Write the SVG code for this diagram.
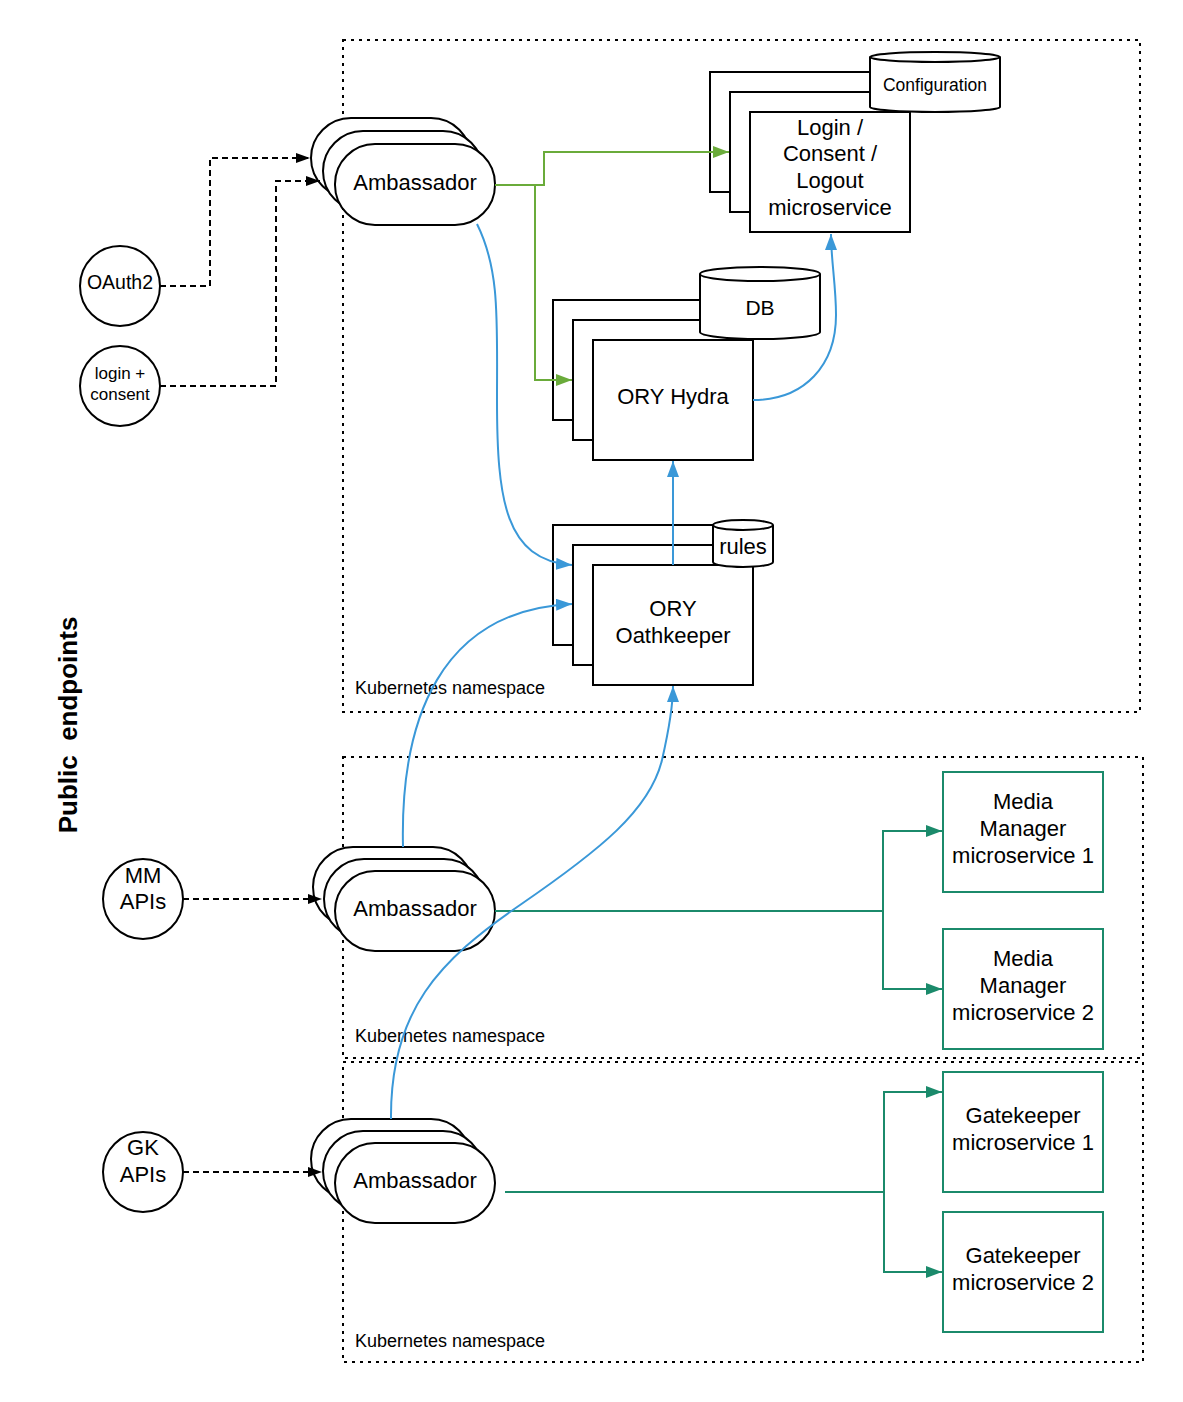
<svg xmlns="http://www.w3.org/2000/svg" width="1183" height="1402" viewBox="0 0 1183 1402">
<defs>
<style>
text{font-family:"Liberation Sans",Arial,sans-serif;fill:#000;text-anchor:middle}
.t{font-size:22px}
.s{font-size:18px}
.k{font-size:18px;text-anchor:start}
.ns{fill:none;stroke:#000;stroke-width:2;stroke-dasharray:3 5}
.n{fill:#fff;stroke:#000;stroke-width:2}
.g{fill:#fff;stroke:#1b8a6b;stroke-width:2}
.dash{fill:none;stroke:#000;stroke-width:2;stroke-dasharray:6 4}
.grn{fill:none;stroke:#6aab3a;stroke-width:2}
.teal{fill:none;stroke:#1b8a6b;stroke-width:2}
.blue{fill:none;stroke:#3a98d8;stroke-width:2}
</style>
<marker id="ak" markerWidth="14" markerHeight="10" refX="14" refY="5" orient="auto" markerUnits="userSpaceOnUse"><path d="M0,0 L14,5 L0,10 Z" fill="#000"/></marker>
<marker id="ag" markerWidth="16" markerHeight="12" refX="16" refY="6" orient="auto" markerUnits="userSpaceOnUse"><path d="M0,0 L16,6 L0,12 Z" fill="#6aab3a"/></marker>
<marker id="at" markerWidth="16" markerHeight="12" refX="16" refY="6" orient="auto" markerUnits="userSpaceOnUse"><path d="M0,0 L16,6 L0,12 Z" fill="#1b8a6b"/></marker>
<marker id="ab" markerWidth="16" markerHeight="12" refX="16" refY="6" orient="auto" markerUnits="userSpaceOnUse"><path d="M0,0 L16,6 L0,12 Z" fill="#3a98d8"/></marker>
</defs>
<rect width="1183" height="1402" fill="#fff"/>

<g id="namespaces">
<rect class="ns" x="343" y="40" width="797" height="672"/>
<rect class="ns" x="343" y="757" width="800" height="301"/>
<rect class="ns" x="343" y="1062" width="800" height="300"/>
<text class="k" x="355" y="694">Kubernetes namespace</text>
<text class="k" x="355" y="1042">Kubernetes namespace</text>
<text class="k" x="355" y="1347">Kubernetes namespace</text>
</g>

<text id="public-endpoints" transform="translate(77,725) rotate(-90)" style="font-size:26px;font-weight:bold;white-space:pre" xml:space="preserve">Public  endpoints</text>

<g id="oauth2">
<circle class="n" cx="120" cy="286" r="40"/>
<text x="120" y="289" style="font-size:19.5px">OAuth2</text>
</g>
<g id="login-consent">
<circle class="n" cx="120" cy="386" r="40"/>
<text x="120" y="379" style="font-size:17px">login +</text>
<text x="120" y="400" style="font-size:17px">consent</text>
</g>
<g id="mm-apis">
<circle class="n" cx="143" cy="899" r="40"/>
<text class="t" x="143" y="883">MM</text>
<text class="t" x="143" y="909">APIs</text>
</g>
<g id="gk-apis">
<circle class="n" cx="143" cy="1172" r="40"/>
<text class="t" x="143" y="1155">GK</text>
<text class="t" x="143" y="1182">APIs</text>
</g>

<g id="ambassador-top">
<rect class="n" x="311" y="118" width="160" height="80" rx="40"/>
<rect class="n" x="323" y="131" width="160" height="80" rx="40"/>
<rect class="n" x="335" y="144" width="160" height="81" rx="40"/>
<text class="t" x="415" y="190">Ambassador</text>
</g>
<g id="ambassador-mm">
<rect class="n" x="313" y="847" width="160" height="80" rx="40"/>
<rect class="n" x="324" y="859" width="160" height="80" rx="40"/>
<rect class="n" x="335" y="871" width="160" height="80" rx="40"/>
<text class="t" x="415" y="916">Ambassador</text>
</g>
<g id="ambassador-gk">
<rect class="n" x="311" y="1119" width="160" height="80" rx="40"/>
<rect class="n" x="323" y="1131" width="160" height="80" rx="40"/>
<rect class="n" x="335" y="1143" width="160" height="80" rx="40"/>
<text class="t" x="415" y="1188">Ambassador</text>
</g>

<g id="login-consent-logout">
<rect class="n" x="710" y="72" width="160" height="120"/>
<rect class="n" x="730" y="92" width="160" height="120"/>
<rect class="n" x="750" y="112" width="160" height="120"/>
<text class="t" x="830" y="135">Login /</text>
<text class="t" x="830" y="161">Consent /</text>
<text class="t" x="830" y="188">Logout</text>
<text class="t" x="830" y="215">microservice</text>
</g>
<g id="configuration">
<path class="n" d="M870,57 A65,5 0 0 1 1000,57 V107 A65,5 0 0 1 870,107 Z"/>
<path d="M870,57 A65,5 0 0 0 1000,57" fill="none" stroke="#000" stroke-width="2"/>
<text class="s" x="935" y="91" style="font-size:17.5px">Configuration</text>
</g>

<g id="ory-hydra">
<rect class="n" x="553" y="300" width="160" height="120"/>
<rect class="n" x="573" y="320" width="160" height="120"/>
<rect class="n" x="593" y="340" width="160" height="120"/>
<text class="t" x="673" y="404">ORY Hydra</text>
</g>
<g id="db">
<path class="n" d="M700,274 A60,7 0 0 1 820,274 V332 A60,7 0 0 1 700,332 Z"/>
<path d="M700,274 A60,7 0 0 0 820,274" fill="none" stroke="#000" stroke-width="2"/>
<text class="t" x="760" y="315" style="font-size:21px">DB</text>
</g>

<g id="ory-oathkeeper">
<rect class="n" x="553" y="525" width="160" height="120"/>
<rect class="n" x="573" y="545" width="160" height="120"/>
<rect class="n" x="593" y="565" width="160" height="120"/>
<text class="t" x="673" y="616">ORY</text>
<text class="t" x="673" y="643">Oathkeeper</text>
</g>
<g id="rules">
<path class="n" d="M713,525 A30,5 0 0 1 773,525 V562 A30,5 0 0 1 713,562 Z"/>
<path d="M713,525 A30,5 0 0 0 773,525" fill="none" stroke="#000" stroke-width="2"/>
<text class="t" x="743" y="554">rules</text>
</g>

<g id="mm-service-1">
<rect class="g" x="943" y="772" width="160" height="120"/>
<text class="t" x="1023" y="809">Media</text>
<text class="t" x="1023" y="836">Manager</text>
<text class="t" x="1023" y="863">microservice 1</text>
</g>
<g id="mm-service-2">
<rect class="g" x="943" y="929" width="160" height="120"/>
<text class="t" x="1023" y="966">Media</text>
<text class="t" x="1023" y="993">Manager</text>
<text class="t" x="1023" y="1020">microservice 2</text>
</g>
<g id="gk-service-1">
<rect class="g" x="943" y="1072" width="160" height="120"/>
<text class="t" x="1023" y="1123">Gatekeeper</text>
<text class="t" x="1023" y="1150">microservice 1</text>
</g>
<g id="gk-service-2">
<rect class="g" x="943" y="1212" width="160" height="120"/>
<text class="t" x="1023" y="1263">Gatekeeper</text>
<text class="t" x="1023" y="1290">microservice 2</text>
</g>

<g id="connectors">
<path class="dash" d="M160,286 H210 V158 H310" marker-end="url(#ak)"/>
<path class="dash" d="M160,386 H276 V181 H320" marker-end="url(#ak)"/>
<path class="dash" d="M183,899 H322" marker-end="url(#ak)"/>
<path class="dash" d="M183,1172 H322" marker-end="url(#ak)"/>
<path class="grn" d="M495,185 H544 V152 H729" marker-end="url(#ag)"/>
<path class="grn" d="M535,185 V380 H572" marker-end="url(#ag)"/>
<path class="teal" d="M495,911 H883 V831 H942" marker-end="url(#at)"/>
<path class="teal" d="M883,911 V989 H942" marker-end="url(#at)"/>
<path class="teal" d="M505,1192 H884 V1092 H942" marker-end="url(#at)"/>
<path class="teal" d="M884,1192 V1272 H942" marker-end="url(#at)"/>
<path class="blue" d="M477,224 C500,270 497,320 497,400 C497,500 505,560 572,565" marker-end="url(#ab)"/>
<path class="blue" d="M753,400 C805,400 836,365 836,315 C836,285 831,260 831,234" marker-end="url(#ab)"/>
<path class="blue" d="M673,565 V461" marker-end="url(#ab)"/>
<path class="blue" d="M403,847 C400,720 440,610 572,604" marker-end="url(#ab)"/>
<path class="blue" d="M391,1119 C390,1010 440,960 520,905 C600,850 650,810 662,760 C670,725 673,705 673,686" marker-end="url(#ab)"/>
</g>
</svg>
